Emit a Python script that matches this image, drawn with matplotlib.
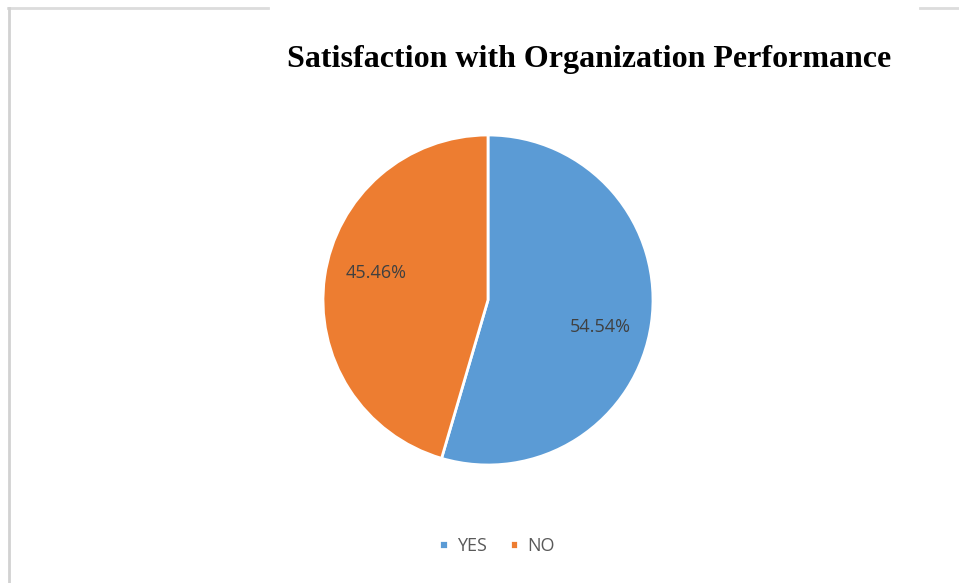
import numpy as np
import matplotlib.pyplot as plt
from matplotlib.lines import Line2D

labels = ["YES", "NO"]
shares = [54.54, 45.46]
colors = ["#5B9BD5", "#ED7D31"]

W, H = 959, 583
fig = plt.figure(figsize=(W / 100, H / 100), dpi=100)

# frame lines around the chart area (pixel coords converted to figure fractions)
def hline(x0, x1, y, **kw):
    fig.add_artist(Line2D([x0 / W, x1 / W], [1 - y / H, 1 - y / H], transform=fig.transFigure, **kw))

hline(8, 268, 8, color="#dcdcdc", lw=2)
hline(920, 959, 8, color="#dcdcdc", lw=2)
fig.add_artist(Line2D([9 / W, 9 / W], [1 - 8 / H, 0], transform=fig.transFigure, color="#d2d2d2", lw=2))

# pie axes: centre (488, 300), radius 165 px
cx, cy, r = 488, 300, 165
ax = fig.add_axes([(cx - r) / W, 1 - (cy + r) / H, 2 * r / W, 2 * r / H])
wedges, _, autotexts = ax.pie(
    shares, colors=colors, startangle=90, counterclock=False,
    autopct=lambda p: f"{p:.2f}%", pctdistance=0.70, radius=1,
    wedgeprops=dict(edgecolor="white", linewidth=2, clip_on=False),
    textprops=dict(fontsize=13, color="#404040", family="Open Sans"),
)
# nudge the percentage labels a little clockwise from each wedge's middle
for w, t in zip(wedges, autotexts):
    mid = np.deg2rad((w.theta1 + w.theta2) / 2 - 5.5)
    t.set_position((0.70 * np.cos(mid), 0.70 * np.sin(mid)))
ax.set_xlim(-1, 1)
ax.set_ylim(-1, 1)
ax.set_aspect("equal")
ax.axis("off")

fig.text(589 / W, 1 - 59 / H, "Satisfaction with Organization Performance",
         ha="center", va="center", fontsize=23, fontweight="bold",
         family="Liberation Serif", color="black")

leg = fig.legend(wedges, labels, loc="center", bbox_to_anchor=(497 / W, 1 - 546 / H),
                 ncol=2, frameon=False, handlelength=0.45, handleheight=0.45,
                 handletextpad=0.5, columnspacing=1.3,
                 prop=dict(family="Open Sans", size=13))
for t in leg.get_texts():
    t.set_color("#595959")

fig.savefig("out.png", dpi=100)
